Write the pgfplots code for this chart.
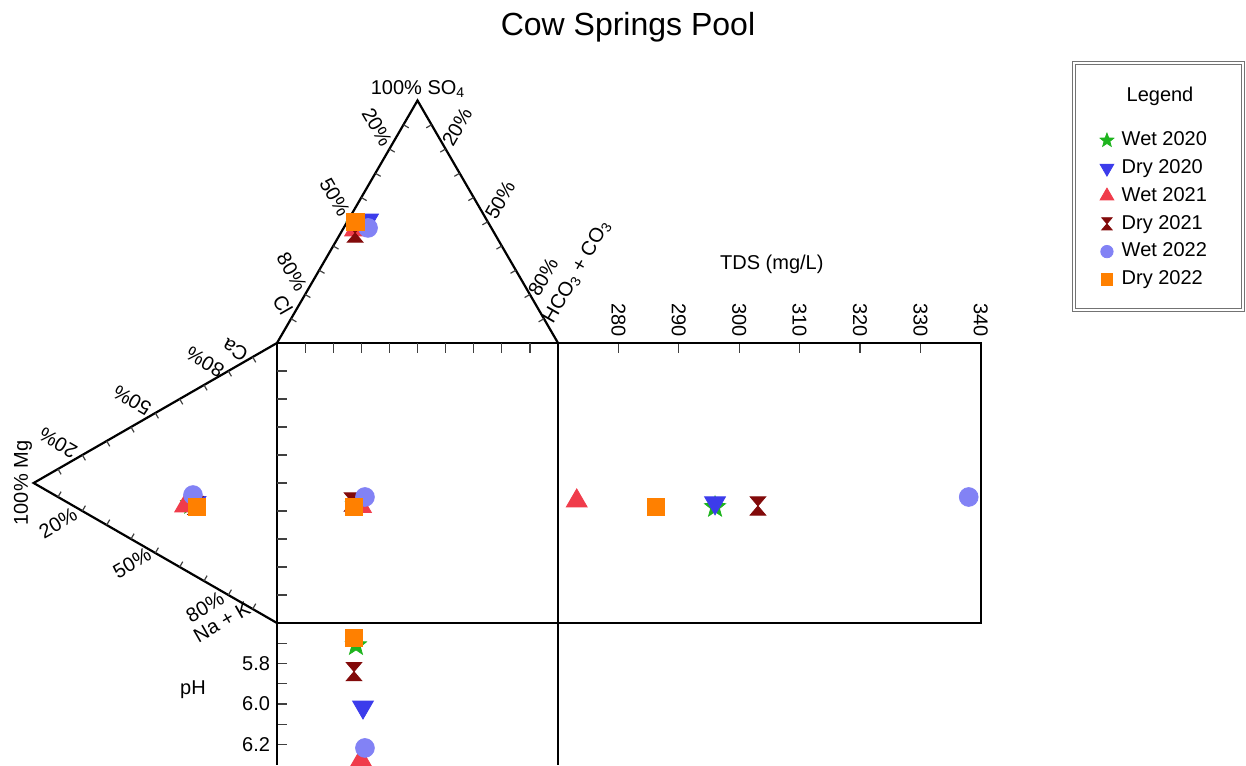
\documentclass[border=0pt]{standalone}
\usepackage{fontspec}
\setmainfont{Liberation Sans}
\usepackage{pgfplots}
\pgfplotsset{compat=1.18}
\definecolor{cwetA}{RGB}{30,180,30}
\definecolor{cdryA}{RGB}{60,60,235}
\definecolor{cwetB}{RGB}{240,60,75}
\definecolor{cdryB}{RGB}{130,10,10}
\definecolor{cwetC}{RGB}{130,130,245}
\definecolor{cdryC}{RGB}{255,128,0}
\pgfdeclareplotmark{hourglass}{%
 \pgfpathmoveto{\pgfqpoint{-0.85\pgfplotmarksize}{\pgfplotmarksize}}%
 \pgfpathlineto{\pgfqpoint{0.85\pgfplotmarksize}{\pgfplotmarksize}}%
 \pgfpathlineto{\pgfqpoint{-0.85\pgfplotmarksize}{-\pgfplotmarksize}}%
 \pgfpathlineto{\pgfqpoint{0.85\pgfplotmarksize}{-\pgfplotmarksize}}%
 \pgfpathclose\pgfusepathqfillstroke}
\pgfdeclareplotmark{fstar}{%
 \pgfpathmoveto{\pgfpointpolar{90}{\pgfplotmarksize}}%
 \pgfpathlineto{\pgfpointpolar{126}{0.42\pgfplotmarksize}}%
 \pgfpathlineto{\pgfpointpolar{162}{\pgfplotmarksize}}%
 \pgfpathlineto{\pgfpointpolar{198}{0.42\pgfplotmarksize}}%
 \pgfpathlineto{\pgfpointpolar{234}{\pgfplotmarksize}}%
 \pgfpathlineto{\pgfpointpolar{270}{0.42\pgfplotmarksize}}%
 \pgfpathlineto{\pgfpointpolar{306}{\pgfplotmarksize}}%
 \pgfpathlineto{\pgfpointpolar{342}{0.42\pgfplotmarksize}}%
 \pgfpathlineto{\pgfpointpolar{18}{\pgfplotmarksize}}%
 \pgfpathlineto{\pgfpointpolar{54}{0.42\pgfplotmarksize}}%
 \pgfpathclose\pgfusepathqfillstroke}
\pgfplotsset{
 sWetA/.style={only marks, mark=fstar, mark size=5.5pt, mark options={draw=cwetA, fill=cwetA}},
 sDryA/.style={only marks, mark=triangle*, mark size=6pt, mark options={draw=cdryA, fill=cdryA, rotate=180}},
 sWetB/.style={only marks, mark=triangle*, mark size=6pt, mark options={draw=cwetB, fill=cwetB}},
 sDryB/.style={only marks, mark=hourglass, mark size=4.6pt, mark options={draw=cdryB, fill=cdryB}},
 sWetC/.style={only marks, mark=*, mark size=4.7pt, mark options={draw=cwetC, fill=cwetC}},
 sDryC/.style={only marks, mark=square*, mark size=4.4pt, mark options={draw=cdryC, fill=cdryC}},
}
\begin{document}
\fontsize{10}{12}\selectfont
\begin{tikzpicture}
\useasboundingbox (0,0) rectangle (623pt,382.5pt);
% main diagram: square 0..100 and the two triangles
\begin{axis}[
 anchor=south west, at={(12.05pt,71pt)},
 x=1.405pt, y=1.4pt,
 xmin=-90, xmax=100, ymin=0, ymax=190,
 hide axis, clip=false,
 legend image code/.code={\path (-0.14cm,0cm) (0.2cm,0cm);\draw[#1, every mark/.append style={scale=0.66}] plot coordinates {(0cm,0cm)};},
 legend style={draw=none, fill=none, at={(2.0005,0.9385)}, anchor=north west,
   font=\fontsize{10}{12}\selectfont, row sep=1.6pt,
   nodes={inner sep=1.5pt, text height=7.3pt, text depth=2pt}},
 legend cell align=left,
]
\addlegendimage{sWetA}\addlegendentry{Wet 2020}
\addlegendimage{sDryA}\addlegendentry{Dry 2020}
\addlegendimage{sWetB}\addlegendentry{Wet 2021}
\addlegendimage{sDryB}\addlegendentry{Dry 2021}
\addlegendimage{sWetC}\addlegendentry{Wet 2022}
\addlegendimage{sDryC}\addlegendentry{Dry 2022}
\addplot[black, line width=1.2pt, forget plot] coordinates {(0,0) (100,0) (100,100) (0,100) (0,0)};
\addplot[black, line width=1.1pt, forget plot] coordinates {(0,100) (50,186.6) (100,100)};
\addplot[black, line width=1.1pt, forget plot] coordinates {(0,100) (-86.6,50) (0,0)};
\pgfplotsinvokeforeach{1,...,9}{
 \draw[black!75, line width=0.6pt] (axis cs:{5*#1},{100+8.66*#1}) -- (axis cs:{5*#1+1.9},{98.9+8.66*#1});
 \draw[black!75, line width=0.6pt] (axis cs:{100-5*#1},{100+8.66*#1}) -- (axis cs:{98.1-5*#1},{98.9+8.66*#1});
 \draw[black!75, line width=0.6pt] (axis cs:{-8.66*#1},{100-5*#1}) -- (axis cs:{1.1-8.66*#1},{98.1-5*#1});
 \draw[black!75, line width=0.6pt] (axis cs:{-8.66*#1},{5*#1}) -- (axis cs:{1.1-8.66*#1},{1.9+5*#1});
 \draw[black!75, line width=0.6pt] (axis cs:{10*#1},100) -- (axis cs:{10*#1},96.5);
 \draw[black!75, line width=0.6pt] (axis cs:0,{10*#1}) -- (axis cs:3.5,{10*#1});
}
% labels upper triangle
\node at (axis cs:50.2,190.6) {100\% SO\textsubscript{4}};
\node[rotate=-60] at (axis cs:35.6,177.1) {20\%};
\node[rotate=-60] at (axis cs:20.6,152.1) {50\%};
\node[rotate=-60] at (axis cs:5.3,125.4) {80\%};
\node[rotate=-60] at (axis cs:2.1,113.6) {Cl};
\node[rotate=60] at (axis cs:64.1,177.1) {20\%};
\node[rotate=60] at (axis cs:79.4,151.1) {50\%};
\node[rotate=60] at (axis cs:94.7,123.6) {80\%};
\node[rotate=60] at (axis cs:106.8,125.4) {HCO\textsubscript{3} + CO\textsubscript{3}};
% labels left triangle
\node[rotate=150] at (axis cs:-14.9,97.5) {Ca};
\node[rotate=150] at (axis cs:-25.6,93.2) {80\%};
\node[rotate=150] at (axis cs:-51.6,79.6) {50\%};
\node[rotate=150] at (axis cs:-77.9,64.3) {20\%};
\node[rotate=90] at (axis cs:-90.4,50) {100\% Mg};
\node[rotate=30] at (axis cs:-77.9,35.7) {20\%};
\node[rotate=30] at (axis cs:-51.6,21.4) {50\%};
\node[rotate=30] at (axis cs:-25.6,5.7) {80\%};
\node[rotate=30] at (axis cs:-19.6,0.4) {Na + K};
% data: upper triangle, square, left triangle
\addplot[sWetA, forget plot] coordinates {(28.3,142.0) (28.1,42.1) (-30.5,42.5)};
\addplot[sDryA, forget plot] coordinates {(32.4,143.9) (30.6,43.9) (-29.0,43.0)};
\addplot[sWetB, forget plot] coordinates {(27.8,140.4) (29.9,41.6) (-32.7,41.8)};
\addplot[sDryB, forget plot] coordinates {(27.8,139.3) (26.7,43.2) (-29.0,42.0)};
\addplot[sWetC, forget plot] coordinates {(32.4,141.1) (31.3,45.0) (-29.9,45.7)};
\addplot[sDryC, forget plot] coordinates {(27.8,143.2) (27.4,41.4) (-28.5,41.4)};
\end{axis}
% TDS panel
\begin{axis}[
 anchor=south west, at={(279pt,71pt)},
 x=3.02pt, y=1.4pt,
 xmin=270, xmax=340, ymin=0, ymax=100,
 clip=false,
 axis line style={line width=1.2pt},
 xtick={280,290,...,340}, ytick=\empty,
 xtick pos=right, xticklabel pos=right,
 tick align=inside, major tick length=5pt,
 tick style={black!75, line width=0.6pt},
 xticklabel style={rotate=-90, anchor=east, inner sep=3pt},
 /pgf/number format/assume math mode=true,
 ticklabel style={font=\fontsize{10}{12}\selectfont},
]
\node at (axis cs:305.4,128.2) {TDS (mg/L)};
\addplot[sWetA] coordinates {(296.0,41.4)};
\addplot[sDryA] coordinates {(296.0,42.9)};
\addplot[sWetB] coordinates {(273.1,43.6)};
\addplot[sDryB] coordinates {(303.1,41.8)};
\addplot[sWetC] coordinates {(338.0,45.0)};
\addplot[sDryC] coordinates {(286.2,41.4)};
\end{axis}
% pH panel
\begin{axis}[
 anchor=north west, at={(138.5pt,71pt)},
 x=1.405pt, y=101.25pt,
 xmin=0, xmax=100, ymin=5.6, ymax=6.3, y dir=reverse,
 clip=false,
 separate axis lines,
 x axis line style={draw=none},
 y axis line style={line width=1.2pt},
 xtick=\empty, ytick={5.8,6.0,6.2}, minor ytick={5.7,5.9,6.1},
 ytick pos=left, tick align=inside,
 major tick length=5pt, minor tick length=5pt,
 tick style={black!75, line width=0.6pt},
 yticklabel style={/pgf/number format/.cd, fixed, fixed zerofill, precision=1},
 /pgf/number format/assume math mode=true,
 ticklabel style={font=\fontsize{10}{12}\selectfont},
]
\node at (axis cs:-29.9,5.93) {pH};
\addplot[sWetA] coordinates {(28.1,5.71)};
\addplot[sDryA] coordinates {(30.6,6.015)};
\addplot[sWetB] coordinates {(29.9,6.277)};
\addplot[sDryB] coordinates {(27.4,5.84)};
\addplot[sWetC] coordinates {(31.3,6.217)};
\addplot[sDryC] coordinates {(27.4,5.674)};
\end{axis}
% title and legend frame
\node[font=\fontsize{16}{19}\selectfont] at (314pt,369pt) {Cow Springs Pool};
\draw[black!55, line width=0.5pt, double, double distance=1.3pt] (537pt,351pt) rectangle (621.5pt,227.5pt);
\node at (580pt,334.5pt) {Legend};
\end{tikzpicture}
\end{document}
